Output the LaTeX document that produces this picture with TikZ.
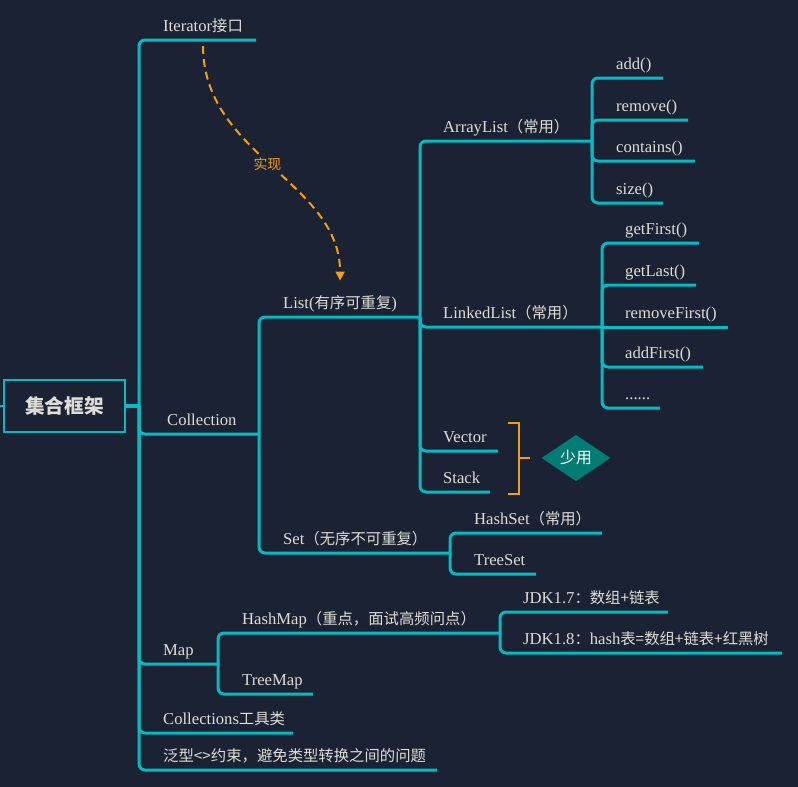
\documentclass[tikz,border=0pt]{standalone}
\usepackage{fontspec}
\setmainfont{Liberation Serif}[Scale=1.04]
\newfontfamily\cjk{Noto Sans CJK SC}[Scale=0.96]
\usepackage{tikz}
\usetikzlibrary{arrows.meta,shapes.geometric}
\definecolor{dbg}{RGB}{27, 34, 52}
\definecolor{lcyan}{RGB}{0, 188, 196}
\definecolor{ltext}{RGB}{222, 222, 214}
\definecolor{lorange}{RGB}{245, 160, 10}
\definecolor{dteal}{RGB}{0, 124, 116}

\begin{document}
\begin{tikzpicture}[x = 1pt, y = -1pt,
	topic/.style = {anchor = south west, inner sep = 0pt, text height = 12pt, text depth = 8pt, text = ltext, font = \fontsize{16}{19}\selectfont},
	branch/.style = {draw = lcyan, line width = 3pt, rounded corners = 6pt},
	impl/.style = {draw = lorange, line width = 2pt, dash pattern = on 8pt off 5pt, -{Triangle[width = 9pt, length = 9pt]}, shorten <= 6pt, shorten >= 16pt}]
	\useasboundingbox (0,0) rectangle (798,787);
	\fill[dbg] (0,0) rectangle (798,787);
	% root
	\node (root) at (64.5,406) [draw = lcyan, line width = 2pt, minimum width = 121pt, minimum height = 52pt, text = ltext, font = \fontsize{20.5}{24}\cjk\bfseries] {集合框架};
	% spines
	\coordinate (hub) at (139,406);
	\coordinate (coll-s) at (259,434);
	\coordinate (map-s) at (218,664);
	\coordinate (list-s) at (420,317);
	\coordinate (set-s) at (450,553);
	\coordinate (arr-s) at (592,141);
	\coordinate (lnk-s) at (602,327);
	\coordinate (hm-s) at (500,633);
	% first level
	\node (iter) at (163,40) [topic] {Iterator{\cjk 接口}};
	\node (coll) at (167,434) [topic] {Collection};
	\node (map) at (163,664) [topic] {Map};
	\node (tools) at (163,733) [topic] {Collections{\cjk 工具类}};
	\node (generic) at (163,770) [topic] {\cjk 泛型<>约束，避免类型转换之间的问题};
	% collection
	\node (list) at (283,317) [topic] {List({\cjk 有序可重复})};
	\node (set) at (283,553) [topic] {Set{\cjk （无序不可重复）}};
	% list
	\node (arr) at (443,141) [topic] {ArrayList{\cjk （常用）}};
	\node (lnk) at (443,327) [topic] {LinkedList{\cjk （常用）}};
	\node (vector) at (443,451) [topic] {Vector};
	\node (stack) at (443,492) [topic] {Stack};
	% arraylist
	\node (add) at (616,78) [topic] {add()};
	\node (remove) at (616,120) [topic] {remove()};
	\node (contains) at (616,161) [topic] {contains()};
	\node (size) at (616,203) [topic] {size()};
	% linkedlist
	\node (gfirst) at (625,243) [topic] {getFirst()};
	\node (glast) at (625,285) [topic] {getLast()};
	\node (rfirst) at (625,327) [topic] {removeFirst()};
	\node (afirst) at (625,367) [topic] {addFirst()};
	\node (dots) at (625,408) [topic] {......};
	% set
	\node (hset) at (474,533) [topic] {HashSet{\cjk （常用）}};
	\node (tset) at (474,574) [topic] {TreeSet};
	% map
	\node (hmap) at (242,633) [topic] {HashMap{\cjk （重点，面试高频问点）}};
	\node (tmap) at (242,694) [topic] {TreeMap};
	\node (jdk7) at (523,612) [topic] {JDK1.7{\cjk ：数组+链表}};
	\node (jdk8) at (523,653) [topic] {JDK1.8{\cjk ：}hash{\cjk 表=数组+链表+红黑树}};
	% connectors
	\draw[lcyan, line width = 4pt] (root.east) -- (hub);
	\draw[lcyan, line width = 2pt] (root.west) -- ++(-5,0);
	\draw[branch] (hub) |- (iter.south west) -- +(93,0);
	\draw[branch] (hub) |- (coll-s);
	\draw[branch] (hub) |- (map-s);
	\draw[branch] (hub) |- (tools.south west) -- +(130,0);
	\draw[branch] (hub) |- (generic.south west) -- +(274,0);
	\draw[branch] (coll-s) |- (list-s);
	\draw[branch] (coll-s) |- (set-s);
	\draw[branch] (list-s) |- (arr-s);
	\draw[branch] (list-s) |- (lnk-s);
	\draw[branch] (list-s) |- (vector.south west) -- +(55,0);
	\draw[branch] (list-s) |- (stack.south west) -- +(47,0);
	\draw[branch] (arr-s) |- (add.south west) -- +(47,0);
	\draw[branch] (arr-s) |- (remove.south west) -- +(72,0);
	\draw[branch] (arr-s) |- (contains.south west) -- +(79,0);
	\draw[branch] (arr-s) |- (size.south west) -- +(47,0);
	\draw[branch] (lnk-s) |- (gfirst.south west) -- +(74,0);
	\draw[branch] (lnk-s) |- (glast.south west) -- +(71,0);
	\draw[branch] (lnk-s) -- (rfirst.south west) -- +(103,0);
	\draw[branch] (lnk-s) |- (afirst.south west) -- +(78,0);
	\draw[branch] (lnk-s) |- (dots.south west) -- +(35,0);
	\draw[branch] (set-s) |- (hset.south west) -- +(128,0);
	\draw[branch] (set-s) |- (tset.south west) -- +(62,0);
	\draw[branch] (map-s) |- (hm-s);
	\draw[branch] (map-s) |- (tmap.south west) -- +(71,0);
	\draw[branch] (hm-s) |- (jdk7.south west) -- +(145,0);
	\draw[branch] (hm-s) |- (jdk8.south west) -- +(259,0);
	% implements
	\draw[impl] (iter.south) .. controls +(0,115) and +(0,-115) .. (list.north)
		node[pos = 0.48, fill = dbg, inner sep = 1pt, text = lorange, font = \fontsize{14.5}{16}\cjk] {实现};
	% seldom used
	\node (few) at (576,458) [diamond, fill = dteal, minimum width = 69pt, minimum height = 46pt, inner sep = 0pt, text = white, font = \fontsize{16.5}{18}\cjk] {少用};
	\coordinate (few-t) at (508,423);
	\coordinate (few-b) at (508,494);
	\coordinate (few-m) at (519,458);
	\draw[lorange, line width = 2pt] (few-t) -- ++(11,0) |- (few-b);
	\draw[lorange, line width = 2pt, shorten >= 11pt] (few-m) -- (few.west);
\end{tikzpicture}
\end{document}
